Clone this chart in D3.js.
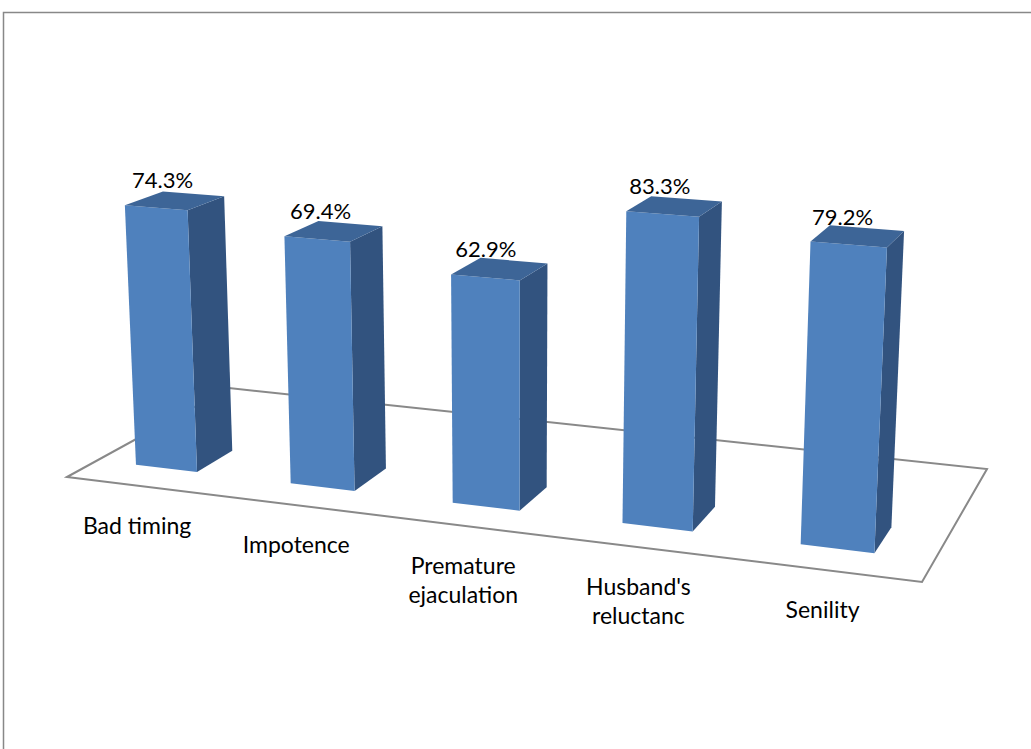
<!DOCTYPE html>
<html>
<head>
<meta charset="utf-8">
<script src="https://cdn.jsdelivr.net/npm/d3@7"></script>
<style>
  body { margin: 0; background: #fff; }
  svg { display: block; }
</style>
</head>
<body>
<svg id="chart"></svg>
<script>
// chart data
const categories = ["Bad timing", "Impotence", "Premature ejaculation", "Husband's reluctanc", "Senility"];
const tickLines = [["Bad timing"], ["Impotence"], ["Premature", "ejaculation"], ["Husband's", "reluctanc"], ["Senility"]];
const values = [74.3, 69.4, 62.9, 83.3, 79.2];

function createChart() {
    const width = 1031;
    const height = 749;

    const svg = d3.select("#chart")
        .attr("width", width)
        .attr("height", height);

    // chart area border (runs off the right and bottom edge)
    svg.append("rect")
        .attr("x", 3.5).attr("y", 12.5)
        .attr("width", 1100).attr("height", 800)
        .attr("fill", "none")
        .attr("stroke", "#888")
        .attr("stroke-width", 1.5);

    // floor corners on screen: front-left, front-right, back-right, back-left
    const quad = [[67, 477], [922, 582], [987, 469], [229, 388]];
    // vanishing point of the vertical edges
    const vp = [515, 9320];

    // homography from unit square (u across, v into depth) to the floor
    const [p0, p1, p2, p3] = quad;
    const sx = p0[0] - p1[0] + p2[0] - p3[0];
    const sy = p0[1] - p1[1] + p2[1] - p3[1];
    const dx1 = p1[0] - p2[0], dx2 = p3[0] - p2[0];
    const dy1 = p1[1] - p2[1], dy2 = p3[1] - p2[1];
    const den = dx1 * dy2 - dx2 * dy1;
    const g = (sx * dy2 - dx2 * sy) / den;
    const h = (dx1 * sy - sx * dy1) / den;
    const a = p1[0] - p0[0] + g * p1[0];
    const b = p3[0] - p0[0] + h * p3[0];
    const c = p0[0];
    const d = p1[1] - p0[1] + g * p1[1];
    const e = p3[1] - p0[1] + h * p3[1];
    const f = p0[1];

    function project(u, v, t) {
        const X = a * u + b * v + c + vp[0] * t;
        const Y = d * u + e * v + f + vp[1] * t;
        const W = g * u + h * v + 1 + t;
        return [X / W, Y / W];
    }

    // scales
    const x = d3.scaleBand()
        .domain(categories)
        .range([-0.003, 0.99])
        .paddingInner(0.6)
        .paddingOuter(0.27);
    const y = d3.scaleLinear().domain([0, 100]).range([0, -0.039]);
    const depth = [0.17, 0.39];

    const line = d3.line();

    // floor
    svg.append("path")
        .attr("d", line([project(0, 0, 0), project(1, 0, 0), project(1, 1, 0), project(0, 1, 0)]) + "Z")
        .attr("fill", "none")
        .attr("stroke", "#898989")
        .attr("stroke-width", 2);

    const bars = svg.append("g")
        .selectAll("g")
        .data(categories.map((cat, i) => ({ cat, value: values[i], lines: tickLines[i] })))
        .join("g");

    const faces = d => {
        const u0 = x(d.cat), u1 = u0 + x.bandwidth();
        const [v0, v1] = depth;
        const t = y(d.value);
        return {
            side: [project(u1, v0, 0), project(u1, v1, 0), project(u1, v1, t), project(u1, v0, t)],
            front: [project(u0, v0, 0), project(u1, v0, 0), project(u1, v0, t), project(u0, v0, t)],
            top: [project(u0, v0, t), project(u1, v0, t), project(u1, v1, t), project(u0, v1, t)]
        };
    };

    bars.append("path").attr("d", d => line(faces(d).side) + "Z").attr("fill", "#32537f");
    bars.append("path").attr("d", d => line(faces(d).front) + "Z").attr("fill", "#4f81bd");
    bars.append("path").attr("d", d => line(faces(d).top) + "Z").attr("fill", "#3d6597");

    // value labels
    bars.append("text")
        .attr("x", d => {
            const p = project(x(d.cat) + x.bandwidth() / 2, depth[0], y(d.value));
            return p[0] + (515 - p[0]) * 0.018;
        })
        .attr("y", d => project(x(d.cat) + x.bandwidth() / 2, depth[0], y(d.value))[1] - 20)
        .attr("text-anchor", "middle")
        .style("font-family", "Lato, 'Open Sans', sans-serif")
        .style("font-size", "22px")
        .attr("fill", "#000")
        .text(d => d.value.toFixed(1) + "%");

    // category labels in front of the floor
    const labels = bars.append("text")
        .attr("text-anchor", "middle")
        .style("font-family", "Lato, 'Open Sans', sans-serif")
        .style("font-size", "23px")
        .attr("fill", "#000")
        .attr("transform", d => {
            const p = project(x(d.cat) + x.bandwidth() / 2, 0, 0);
            return `translate(${p[0]},${p[1] + 48})`;
        });

    labels.selectAll("tspan")
        .data(d => d.lines)
        .join("tspan")
        .attr("x", 0)
        .attr("y", (l, i) => i * 29)
        .text(l => l);
}

createChart();
</script>
</body>
</html>
